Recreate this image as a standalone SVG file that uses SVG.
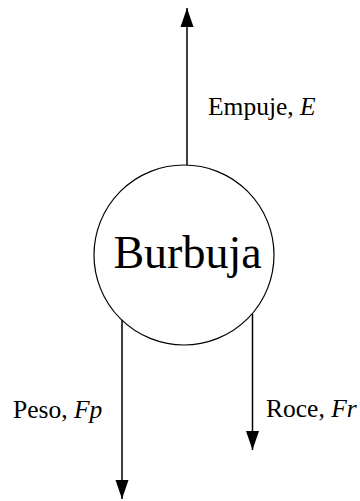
<svg xmlns="http://www.w3.org/2000/svg" width="360" height="501" viewBox="0 0 360 501">
<style>
.t{font-family:"Liberation Serif","Times New Roman",serif;fill:#000}
.f{font-size:25.5px}
.i{font-style:italic}
.c{stroke:#000;stroke-width:1.5;fill:none}
</style>
<defs>
<marker id="a" markerUnits="userSpaceOnUse" markerWidth="20" markerHeight="14" refX="19" refY="7" orient="auto" viewBox="0 0 20 14">
<path d="M0,0.5 L19,7 L0,13.5 Z" fill="#000"/>
</marker>
</defs>
<rect width="360" height="501" fill="#fff"/>
<g id="connectors">
<line class="c" x1="187" y1="165" x2="187" y2="8" marker-end="url(#a)"/>
<line class="c" x1="122" y1="319" x2="122" y2="499" marker-end="url(#a)"/>
<line class="c" x1="252.5" y1="314" x2="252.5" y2="450" marker-end="url(#a)"/>
</g>
<g id="burbuja">
<circle cx="184" cy="255" r="90" fill="#fff" stroke="#000" stroke-width="1.2"/>
<text class="t" x="187.5" y="268" font-size="46" text-anchor="middle">Burbuja</text>
</g>
<g id="label-empuje"><text class="t f" x="208" y="115">Empuje, <tspan class="i">E</tspan></text></g>
<g id="label-peso"><text class="t f" x="13" y="418">Peso, <tspan class="i">Fp</tspan></text></g>
<g id="label-roce"><text class="t f" x="266" y="417">Roce, <tspan class="i">Fr</tspan></text></g>
</svg>
